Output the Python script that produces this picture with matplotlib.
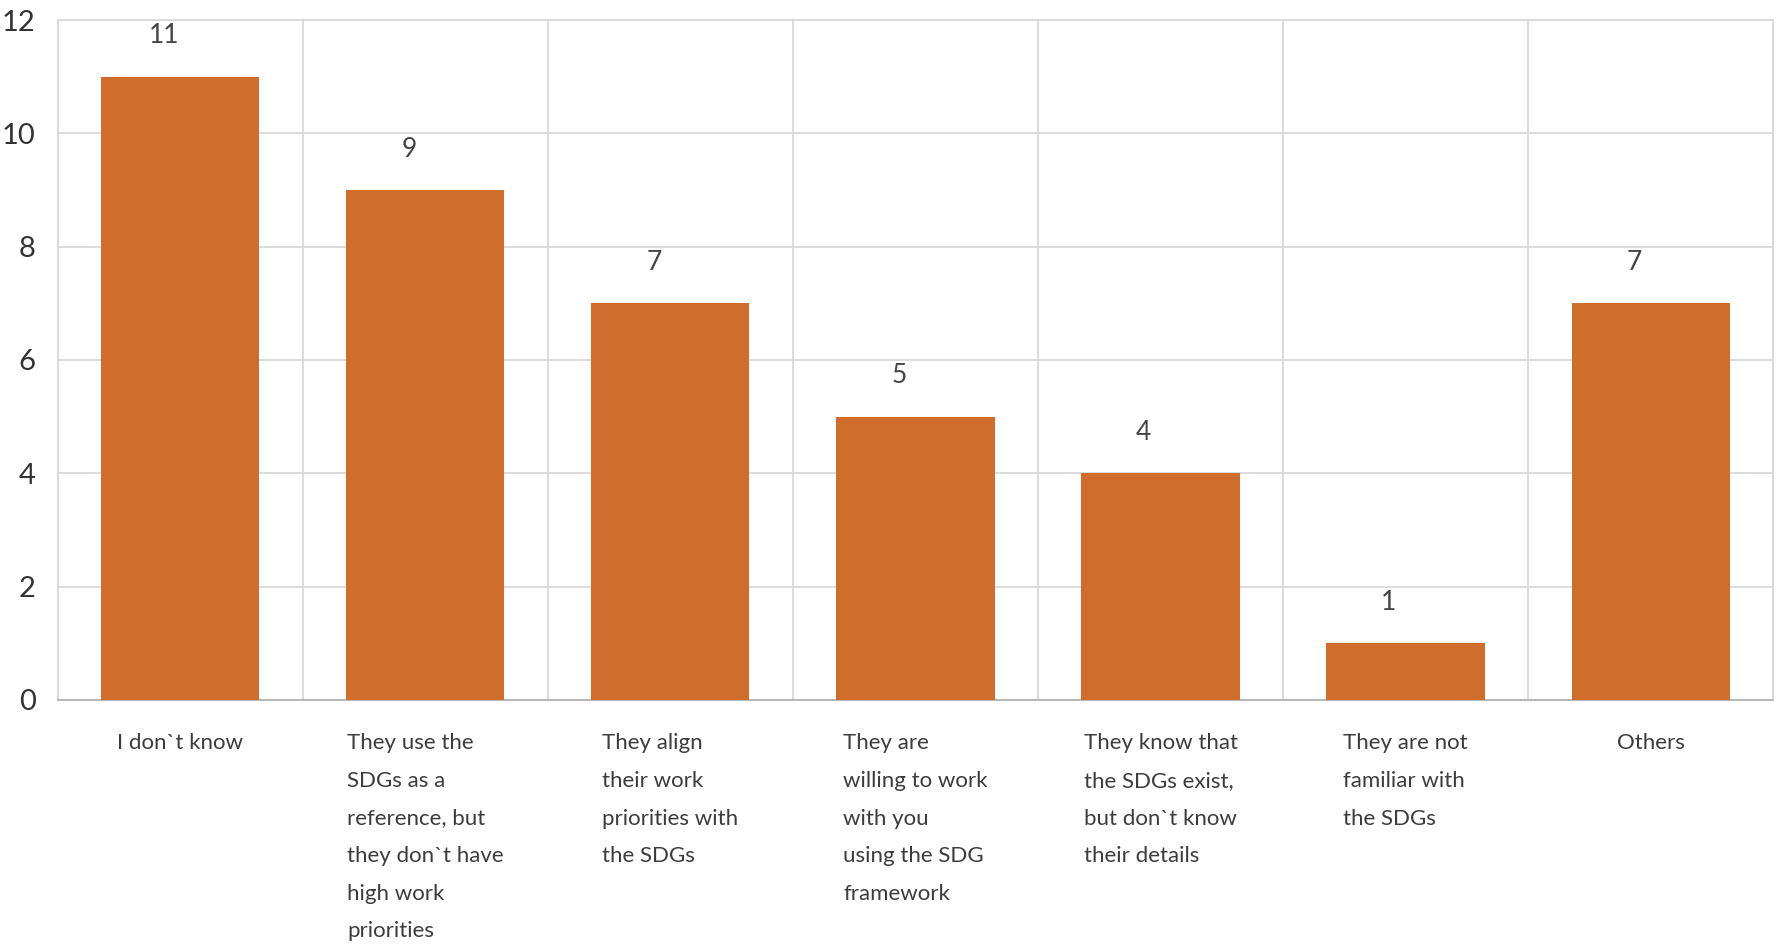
import numpy as np
import matplotlib.pyplot as plt

categories = [
    "I don`t know",
    "They use the\nSDGs as a\nreference, but\nthey don`t have\nhigh work\npriorities",
    "They align\ntheir work\npriorities with\nthe SDGs",
    "They are\nwilling to work\nwith you\nusing the SDG\nframework",
    "They know that\nthe SDGs exist,\nbut don`t know\ntheir details",
    "They are not\nfamiliar with\nthe SDGs",
    "Others",
]
counts = [11, 9, 7, 5, 4, 1, 7]
yticks = [0, 2, 4, 6, 8, 10, 12]

bar_color = '#d06c2c'
grid_color = '#d9d9d9'
text_color = '#3c3c3c'

plt.rcParams['font.family'] = ['Lato', 'DejaVu Sans']

fig = plt.figure(figsize=(17.78, 9.44), dpi=100)
ax = fig.add_axes([0.0326, 0.2585, 0.9646, 0.7203])

x = np.arange(len(categories))
ax.bar(x, counts, width=0.645, color=bar_color, zorder=3)

ax.set_xlim(-0.5, len(categories) - 0.5)
ax.set_ylim(0, 12)
ax.set_yticks(yticks)
ax.set_yticklabels([str(t) for t in yticks], fontsize=21, color='#333333')

# vertical grid at category boundaries
ax.set_xticks(np.arange(len(categories) + 1) - 0.5, minor=True)
ax.set_xticks(x)
ax.set_xticklabels([])
ax.grid(axis='y', color=grid_color, lw=1.3, zorder=0)
ax.grid(axis='x', which='minor', color=grid_color, lw=1.3, zorder=0)
ax.tick_params(axis='both', which='both', length=0)
ax.tick_params(axis='y', pad=16)

for side in ['top', 'right', 'left']:
    ax.spines[side].set_color(grid_color)
    ax.spines[side].set_linewidth(1.3)
ax.spines['bottom'].set_color('#b8b8b8')
ax.spines['bottom'].set_linewidth(1.5)

# category labels under the bars
for xi, lab in zip(x, categories):
    ax.annotate(lab, xy=(xi, 0), xytext=(0, -24), textcoords='offset points',
                ha='center', va='top', multialignment='left', fontsize=16,
                color=text_color, linespacing=2.1)

# value labels above the bars
for xi, v in zip(x, counts):
    ax.annotate(str(v), xy=(xi, v), xytext=(-12, 29.5), textcoords='offset points',
                ha='center', va='center', fontsize=19, color='#444444')

plt.savefig('out.png', dpi=100)
